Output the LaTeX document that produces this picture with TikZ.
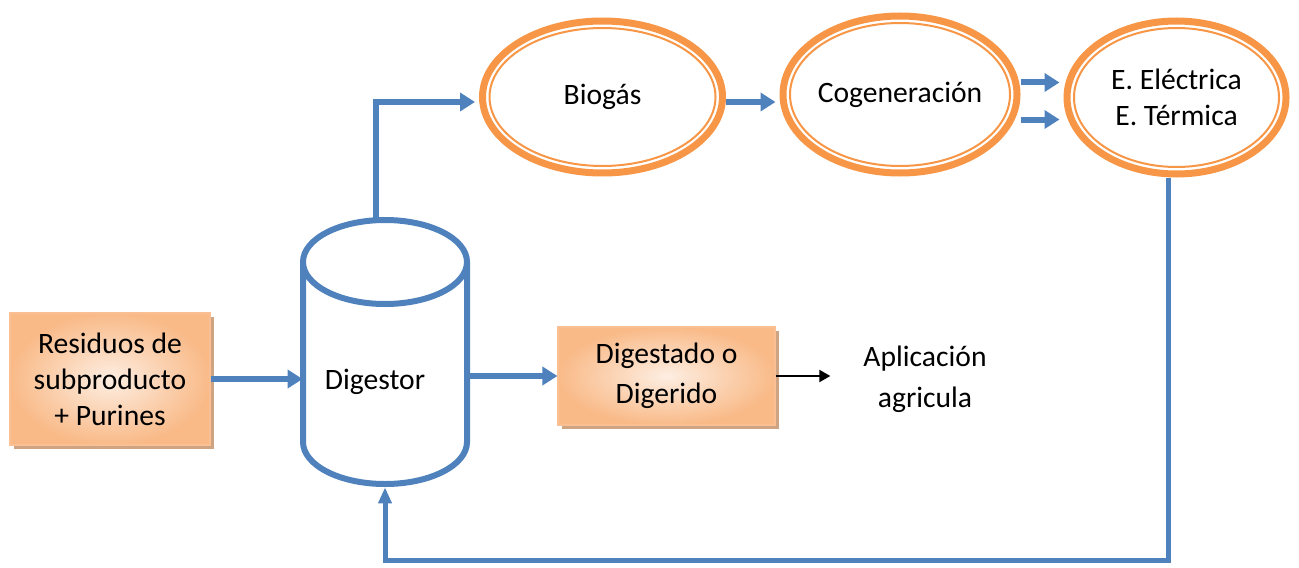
\documentclass[tikz,border=0pt]{standalone}
\usepackage{fontspec}
\setmainfont{Carlito}
\usetikzlibrary{calc}
\usetikzlibrary{shapes.geometric}
\usetikzlibrary{arrows.meta}
\usetikzlibrary{shadows}
\definecolor{flowblue}{RGB}{79,129,189}
\definecolor{ringorange}{RGB}{247,150,70}
\definecolor{boxdark}{RGB}{249,186,136}
\definecolor{boxlight}{RGB}{253,238,226}
\definecolor{boxedge}{RGB}{250,192,148}
\definecolor{boxshadow}{RGB}{206,164,130}

\begin{document}
\begin{tikzpicture}[x=0.5pt, y=-0.5pt,
  font=\fontsize{14.8}{18}\selectfont,
  box/.style={draw=boxedge, line width=0.6pt, inner color=boxlight, outer color=boxdark,
    align=center, inner sep=0pt,
    drop shadow={shadow xshift=2.2pt, shadow yshift=-2.2pt, fill=boxshadow, opacity=1}},
  ring/.style={ellipse, draw=ringorange, line width=3.5pt, inner sep=0pt, align=center},
  ring inner/.style={ellipse, draw=ringorange, line width=1pt, inner sep=0pt},
  flow/.style={-{Triangle[length=7.5pt,width=9pt]}, draw=flowblue, line width=3pt},
  feedback/.style={-{Triangle[length=8pt,width=6.5pt]}, draw=flowblue, line width=2.5pt}]
\useasboundingbox (0,0) rectangle (1299,567);

% syöte ja reaktori
\node[box, minimum width=100pt, minimum height=66pt] (res) at (110,379)
  {Residuos de\\subproducto\\+ Purines};

\node[minimum width=82pt, minimum height=132pt, inner sep=0pt] (dig) at (385,352) {};
\coordinate (dig-top) at (385,262);
\draw[flowblue, line width=3pt] (dig-top) ellipse [x radius=41pt, y radius=21pt]
  (dig-top) ++(-41pt,0) -- ++(0,-90pt)
  arc [start angle=180, end angle=360, x radius=41pt, y radius=21pt] -- ++(0,90pt);
\node (dig-label) at (375,382) {Digestor};

\node[box, minimum width=108.5pt, minimum height=49pt,
  font=\fontsize{14.8}{20}\selectfont] (dgt) at (666.5,376) {Digestado o\\Digerido};
\node[align=center, font=\fontsize{14.8}{20.5}\selectfont] (apl) at (925,379)
  {Aplicación\\agricula};

% kaasulinja
\foreach \n/\x/\y/\w/\h/\t in {bio/602.5/97/120/76/Biogás,
    cog/900/94.5/117/78.5/Cogeneración,
    ene/1176.5/97.5/109.5/76.5/{E. Eléctrica\\E. Térmica}} {
  \node[ring, minimum width=\w pt, minimum height=\h pt] (\n) at (\x,\y) {\t};
  \node[ring inner, minimum width=\w pt-7pt, minimum height=\h pt-7pt] (\n-inner) at (\n.center) {};
}

\draw[flow] (res.east) -- (res.east -| dig.west);
\draw[flow] (dig.east |- dgt.west) -- (dgt.west);
\draw[-{Triangle[length=5.5pt,width=6pt]}, line width=1pt, shorten >=13pt]
  (dgt.east) -- (dgt.east -| apl.west);

\draw[flow, shorten >=2pt] ($(dig.north)+(-9,0)$) |- ($(bio.west)+(0,5)$);
\draw[flow, shorten >=2pt] ($(bio.east)+(0,5)$) coordinate (b1) -- (b1 -| cog.west);
\draw[flow, shorten >=2pt] ($(cog.east)+(0,-12)$) coordinate (c1) -- (c1 -| ene.west);
\draw[flow, shorten >=2pt] ($(cog.east)+(0,25)$) coordinate (c2) -- (c2 -| ene.west);

% paluu
\coordinate (fb) at (385,560);
\draw[feedback, shorten >=1.5pt] ($(ene.south)+(-8,0)$) |- (fb) -- (dig.south);

\end{tikzpicture}
\end{document}
